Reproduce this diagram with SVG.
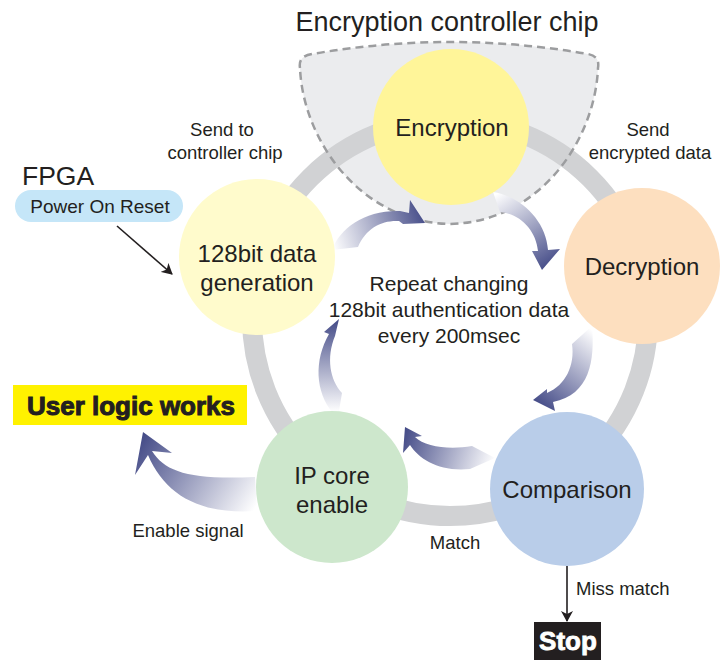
<svg xmlns="http://www.w3.org/2000/svg" width="727" height="661" viewBox="0 0 727 661">
<style>
text{font-family:"Liberation Sans",Arial,sans-serif;fill:#231f20}
.lbl{font-size:18.5px;text-anchor:middle}
.node{font-size:24px;text-anchor:middle}
.ctr{font-size:21px;text-anchor:middle}
.arr{stroke:none}
</style>
<defs>
<linearGradient id="g1" x1="332" y1="245" x2="425" y2="215" gradientUnits="userSpaceOnUse"><stop offset="0" stop-color="#ffffff"/><stop offset="1" stop-color="#454c88"/></linearGradient>
<linearGradient id="g2" x1="495" y1="195" x2="545" y2="270" gradientUnits="userSpaceOnUse"><stop offset="0" stop-color="#ffffff"/><stop offset="1" stop-color="#454c88"/></linearGradient>
<linearGradient id="g3" x1="592" y1="330" x2="535" y2="402" gradientUnits="userSpaceOnUse"><stop offset="0" stop-color="#ffffff"/><stop offset="1" stop-color="#454c88"/></linearGradient>
<linearGradient id="g4" x1="495" y1="460" x2="405" y2="430" gradientUnits="userSpaceOnUse"><stop offset="0" stop-color="#ffffff"/><stop offset="1" stop-color="#454c88"/></linearGradient>
<linearGradient id="g5" x1="336" y1="412" x2="336" y2="320" gradientUnits="userSpaceOnUse"><stop offset="0" stop-color="#ffffff"/><stop offset="1" stop-color="#454c88"/></linearGradient>
<linearGradient id="g6" x1="257" y1="505" x2="143" y2="435" gradientUnits="userSpaceOnUse"><stop offset="0" stop-color="#ffffff"/><stop offset="1" stop-color="#454c88"/></linearGradient>
<marker id="ah" markerWidth="12" markerHeight="12" refX="10" refY="6" orient="auto" markerUnits="userSpaceOnUse"><path d="M0,0 L11,6 L0,12 L3,6 Z" fill="#231f20"/></marker>
</defs>

<g id="chip-region">
<path d="M300,68 Q298,56 312,54 Q450,30 588,54 Q600,56 598,68 C595,140 540,222 450,224 C360,222 303,140 300,68 Z" fill="#ebecee"/>
</g>
<g id="ring">
<circle cx="450" cy="318" r="198" fill="none" stroke="#d1d2d4" stroke-width="20"/>
</g>
<g id="chip-outline">
<path d="M300,68 Q298,56 312,54 Q450,30 588,54 Q600,56 598,68 C595,140 540,222 450,224 C360,222 303,140 300,68 Z" fill="none" stroke="#9c9d9f" stroke-width="2.5" stroke-dasharray="8,5"/>
<text x="447" y="31" style="font-size:27px;text-anchor:middle">Encryption controller chip</text>
</g>

<g id="connectors">
<path class="arr" fill="url(#g1)" d="M332,250 C340,228 365,210 400,211 L409,213 L410,200 L425,223 L403,224 L399,221 C382,220 366,228 358,247 Z"/>
<path class="arr" fill="url(#g2)" d="M493,192 C520,196 546,220 548,250 L560,249 L542,270 L532,251 L538,251 C536,230 520,214 500,212 Z"/>
<path class="arr" fill="url(#g3)" d="M592,326 C595,360 590,395 553,402 L555,411 L533,400 L547,389 L547,393 C566,385 575,365 572,344 Z"/>
<path class="arr" fill="url(#g4)" d="M495,458 L472,446 C450,450 425,447 415,437 L422,436 L405,427 L403,453 L410,445 C420,460 440,472 470,469 Z"/>
<path class="arr" fill="url(#g5)" d="M339,319 L324,332 L329,334 C314,360 315,392 333,413 L339,411 L342,393 C330,380 326,358 335,336 Z"/>
<path class="arr" fill="url(#g6)" d="M143,432 L172,453 L152,451 C165,472 190,480 255,477 L257,511 C200,515 165,495 148,455 L135,475 Z"/>
<line x1="117" y1="226" x2="172" y2="274" stroke="#231f20" stroke-width="1.6" marker-end="url(#ah)"/>
<line x1="567" y1="566" x2="567" y2="621" stroke="#231f20" stroke-width="1.6" marker-end="url(#ah)"/>
<text x="222" y="136" class="lbl">Send to</text>
<text x="225" y="159" class="lbl">controller chip</text>
<text x="648" y="136" class="lbl">Send</text>
<text x="650" y="159" class="lbl">encrypted data</text>
<text x="188" y="537" class="lbl">Enable signal</text>
<text x="455" y="549" class="lbl">Match</text>
<text x="576" y="595" style="font-size:18.5px">Miss match</text>
</g>

<g id="encryption">
<circle cx="451" cy="127" r="78" fill="#fff599"/>
<text x="452" y="136" class="node">Encryption</text>
</g>
<g id="decryption">
<circle cx="642" cy="266" r="78" fill="#fddfbf"/>
<text x="642" y="275" class="node">Decryption</text>
</g>
<g id="comparison">
<circle cx="567" cy="489" r="77" fill="#b9cde9"/>
<text x="567" y="498" class="node">Comparison</text>
</g>
<g id="ipcore">
<circle cx="332" cy="487" r="76" fill="#cde7cc"/>
<text x="332" y="484" class="node">IP core</text>
<text x="332" y="513" class="node">enable</text>
</g>
<g id="datagen">
<circle cx="257" cy="257" r="78" fill="#fffbcc"/>
<text x="257" y="262" class="node">128bit data</text>
<text x="257" y="291" class="node">generation</text>
</g>

<g id="center-text">
<text x="449" y="291" class="ctr">Repeat changing</text>
<text x="449" y="317" class="ctr">128bit authentication data</text>
<text x="449" y="343" class="ctr">every 200msec</text>
</g>

<g id="fpga">
<text x="22" y="185" style="font-size:26.5px">FPGA</text>
<rect x="15" y="190" width="168" height="32" rx="16" fill="#c5e6f8"/>
<text x="100" y="213" style="font-size:19px;text-anchor:middle">Power On Reset</text>
</g>

<g id="user-logic">
<rect x="13" y="385" width="234" height="40" fill="#fff200"/>
<text x="131" y="415" style="font-size:26px;font-weight:bold;text-anchor:middle;stroke:#231f20;stroke-width:1">User logic works</text>
</g>

<g id="stop">
<rect x="534" y="622" width="67" height="38" fill="#231f20"/>
<text x="568" y="650" style="font-size:26px;font-weight:bold;text-anchor:middle;fill:#ffffff;stroke:#ffffff;stroke-width:0.8">Stop</text>
</g>
</svg>
